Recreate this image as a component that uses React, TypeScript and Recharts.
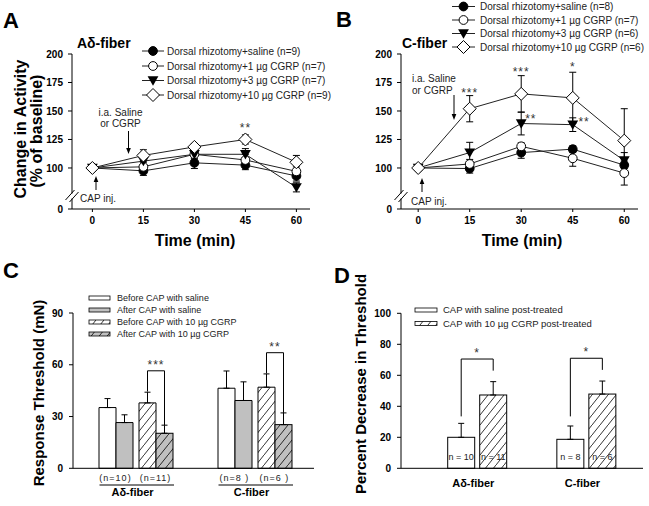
import React from 'react';
import { LineChart, Line, BarChart, Bar, XAxis, YAxis, ErrorBar, ReferenceDot } from 'recharts';

const FONT = 'Arial, "Liberation Sans", Helvetica, sans-serif';
const INK = '#000';
const TEXT = '#222';
const GRAY = '#c0c0c0';

// ---- A / B: change in activity over time ----
const timesMin = [0, 15, 30, 45, 60];
const yBreakFloor = 64; // bottom of the broken axis, printed as "0"
const activityTicks = [yBreakFloor, 100, 125, 150, 175, 200];
const markerKinds = ['dot', 'circle', 'tri', 'diamond'];

const aSaline = [100, 97.5, 104.5, 102.5, 93];
const aSalineErr = [0, 4, 5, 4, 4.5];
const a1ug = [100, 101, 112, 107, 97];
const a1ugErr = [0, 4, 4, 5, 4];
const a3ug = [100, 106, 112, 112, 83];
const a3ugErr = [0, 5, 4, 5, 4];
const a10ug = [100, 111, 118.5, 125, 105];
const a10ugErr = [0, 5, 3, 4, 6];
const aLegend = [
  'Dorsal rhizotomy+saline (n=9)',
  'Dorsal rhizotomy+1 µg CGRP (n=7)',
  'Dorsal rhizotomy+3 µg CGRP (n=7)',
  'Dorsal rhizotomy+10 µg CGRP (n=9)',
];
const aStarTimes = [45];
const aStarLevels = [137.5];
const aStarText = ['**'];

const bSaline = [100, 99.5, 113.5, 116.5, 102.5];
const bSalineErr = [0, 4, 5, 3, 6];
const b1ug = [100, 103.5, 119, 108.5, 95.5];
const b1ugErr = [0, 4, 3, 7, 10.5];
const b3ug = [100, 113.5, 139, 138, 106.5];
const b3ugErr = [0, 9, 10, 6, 7];
const b10ug = [100, 152, 165, 161.5, 124];
const b10ugErr = [0, 11.5, 16, 22.5, 28];
const bLegend = [
  'Dorsal rhizotomy+saline (n=8)',
  'Dorsal rhizotomy+1 µg CGRP (n=7)',
  'Dorsal rhizotomy+3 µg CGRP (n=6)',
  'Dorsal rhizotomy+10 µg CGRP (n=6)',
];
const bStarTimes = [15, 30, 45, 32.8, 48.3];
const bStarLevels = [168, 187, 191.5, 145.5, 143];
const bStarText = ['***', '***', '*', '**', '**'];

// ---- C: response threshold ----
const fiberTypes = ['Aδ-fiber', 'C-fiber'];
const cBeforeSaline = [35.2, 46.4];
const cBeforeSalineErr = [5.2, 10];
const cAfterSaline = [26.5, 39.3];
const cAfterSalineErr = [4.5, 10.8];
const cBeforeCgrp = [37.9, 47];
const cBeforeCgrpErr = [6.2, 7.7];
const cAfterCgrp = [20.3, 25.3];
const cAfterCgrpErr = [4.7, 6.8];
const cSalineN = ['(n=10)', '(n=8 )'];
const cCgrpN = ['(n=11)', '(n=6 )'];
const cSig = ['***', '**'];
const cBracketTop = [56.5, 67];
const cLegStart = [44.5, 55];
const cLegEnd = [25, 32.1];
const cLegend = ['Before CAP with saline', 'After CAP with saline', 'Before CAP with 10 µg CGRP', 'After CAP with 10 µg CGRP'];
const cTicks = [0, 30, 60, 90];

// ---- D: percent decrease in threshold ----
const dSaline = [20, 18.7];
const dSalineErr = [9, 8.6];
const dCgrp = [47.3, 47.9];
const dCgrpErr = [8.6, 8.4];
const dSalineN = ['n = 10', 'n = 8'];
const dCgrpN = ['n = 11', 'n = 6'];
const dSig = ['*', '*'];
const dBracketTop = [70.5, 71];
const dLegStart = [33.5, 33.5];
const dLegEnd = [63, 63.5];
const dLegend = ['CAP with saline post-treated', 'CAP with 10 µg CGRP post-treated'];
const dTicks = [0, 20, 40, 60, 80, 100];

const aRows = timesMin.map((t, i) => ({
  t, v0: aSaline[i], e0: aSalineErr[i], v1: a1ug[i], e1: a1ugErr[i],
  v2: a3ug[i], e2: a3ugErr[i], v3: a10ug[i], e3: a10ugErr[i],
}));
const bRows = timesMin.map((t, i) => ({
  t, v0: bSaline[i], e0: bSalineErr[i], v1: b1ug[i], e1: b1ugErr[i],
  v2: b3ug[i], e2: b3ugErr[i], v3: b10ug[i], e3: b10ugErr[i],
}));
const cRows = fiberTypes.map((fiber, i) => ({
  fiber,
  bs: cBeforeSaline[i], bsE: [0, cBeforeSalineErr[i]],
  as: cAfterSaline[i], asE: [0, cAfterSalineErr[i]],
  bc: cBeforeCgrp[i], bcE: [0, cBeforeCgrpErr[i]],
  ac: cAfterCgrp[i], acE: [0, cAfterCgrpErr[i]],
}));
const dRows = fiberTypes.map((fiber, i) => ({
  fiber,
  sal: dSaline[i], salE: [0, dSalineErr[i]],
  cg: dCgrp[i], cgE: [0, dCgrpErr[i]],
}));

const tickStyle = { fill: INK, fontSize: 10, fontWeight: 700, fontFamily: FONT };

function Marker({ kind, cx, cy }: { kind: string; cx: number; cy: number }) {
  if (cx == null || cy == null) return null;
  if (kind === 'dot') return <circle cx={cx} cy={cy} r={4.4} fill={INK} stroke={INK} />;
  if (kind === 'circle') return <circle cx={cx} cy={cy} r={4.4} fill="#fff" stroke={INK} />;
  if (kind === 'tri')
    return <polygon points={`${cx - 5.4},${cy - 4.2} ${cx + 5.4},${cy - 4.2} ${cx},${cy + 5.2}`} fill={INK} />;
  return (
    <polygon
      points={`${cx},${cy - 6.5} ${cx + 6.5},${cy} ${cx},${cy + 6.5} ${cx - 6.5},${cy}`}
      fill="#fff"
      stroke={INK}
    />
  );
}

function Stars({ x, y, text }: { x: number; y: number; text: string }) {
  // y is the visual centre of the asterisks
  return (
    <text x={x} y={y + 7} textAnchor="middle" fontSize={12} letterSpacing={1} fill="#333" fontFamily={FONT}>
      {text}
    </text>
  );
}

function TimeCourse(props: any) {
  const { rows, width, yAxisWidth, rightPad, xDomain, starTimes, starLevels, starText } = props;
  return (
    <LineChart width={width} height={260} data={rows} margin={{ top: 54, right: rightPad, bottom: 31, left: 0 }}>
      <XAxis
        type="number"
        dataKey="t"
        domain={xDomain}
        ticks={timesMin}
        allowDataOverflow
        height={20}
        axisLine={{ stroke: INK }}
        tickLine={{ stroke: INK }}
        tickSize={3}
        tickMargin={5}
        tick={tickStyle}
      />
      <YAxis
        type="number"
        domain={[yBreakFloor, 200]}
        ticks={activityTicks}
        allowDataOverflow
        width={yAxisWidth}
        axisLine={{ stroke: INK }}
        tickLine={{ stroke: INK }}
        tickSize={4}
        tickMargin={5}
        tick={tickStyle}
        tickFormatter={(v: number) => (v === yBreakFloor ? '0' : String(v))}
      />
      {markerKinds.map((k, s) => (
        <Line
          key={k}
          dataKey={`v${s}`}
          stroke="#222"
          strokeWidth={1}
          isAnimationActive={false}
          activeDot={false}
          dot={(p: any) => <Marker key={`${k}-${p.index}`} kind={k} cx={p.cx} cy={p.cy} />}
        >
          <ErrorBar dataKey={`e${s}`} width={3.5} stroke={INK} strokeWidth={1} direction="y" />
        </Line>
      ))}
      {starTimes.map((t: number, i: number) => (
        <ReferenceDot
          key={`st-${i}`}
          x={t}
          y={starLevels[i]}
          r={0}
          ifOverflow="visible"
          shape={(p: any) => <Stars x={p.cx} y={p.cy} text={starText[i]} />}
        />
      ))}
    </LineChart>
  );
}

function HatchDefs({ prefix }: { prefix: string }) {
  return (
    <defs>
      <pattern id={`${prefix}W`} patternUnits="userSpaceOnUse" width={8} height={10}>
        <rect width={8} height={10} fill="#fff" />
        <path d="M0,10 L8,0" stroke={INK} strokeWidth={0.8} />
      </pattern>
      <pattern id={`${prefix}G`} patternUnits="userSpaceOnUse" width={8} height={10}>
        <rect width={8} height={10} fill={GRAY} />
        <path d="M0,10 L8,0" stroke={INK} strokeWidth={0.8} />
      </pattern>
    </defs>
  );
}

// C: last bar of each group also carries the significance bracket
function CBracketBar(p: any) {
  const { x, y, width, height, index } = p;
  const base = y + height;
  const ppu = height / cAfterCgrp[index];
  const yv = (v: number) => base - v * ppu;
  const rx = x + width / 2;
  const lx = x - width / 2;
  const top = yv(cBracketTop[index]);
  return (
    <g>
      <rect x={x} y={y} width={width} height={height} fill="url(#cHatchG)" stroke={INK} strokeWidth={1} />
      <polyline
        points={`${lx},${yv(cLegStart[index])} ${lx},${top} ${rx},${top} ${rx},${yv(cLegEnd[index])}`}
        fill="none"
        stroke={INK}
        strokeWidth={1}
      />
      <Stars x={(lx + rx) / 2} y={top - 9} text={cSig[index]} />
    </g>
  );
}

function CTick(p: any) {
  const { x, y, payload } = p;
  const i = fiberTypes.indexOf(payload.value);
  return (
    <g fontFamily={FONT}>
      <text x={x - 20} y={y + 12.6} textAnchor="middle" fontSize={9} letterSpacing={1} fill={TEXT}>
        {cSalineN[i]}
      </text>
      <text x={x + 20} y={y + 12.6} textAnchor="middle" fontSize={9} letterSpacing={1} fill={TEXT}>
        {cCgrpN[i]}
      </text>
      <line x1={x - 36} x2={x + 38.5} y1={y + 16.7} y2={y + 16.7} stroke={INK} strokeWidth={1} />
      <text x={x - 3} y={y + 27.5} textAnchor="middle" fontSize={11} fontWeight={700} fill={INK}>
        {payload.value}
      </text>
    </g>
  );
}

const D_GAP = 5;

function DBar(p: any, series: 'sal' | 'cg') {
  const { x, y, width, height, index } = p;
  const isCgrp = series === 'cg';
  const label = isCgrp ? dCgrpN[index] : dSalineN[index];
  let bracket = null;
  if (isCgrp) {
    const base = y + height;
    const ppu = height / dCgrp[index];
    const yv = (v: number) => base - v * ppu;
    const rx = x + width / 2;
    const lx = x - D_GAP - width / 2;
    const top = yv(dBracketTop[index]);
    bracket = (
      <g>
        <polyline
          points={`${lx},${yv(dLegStart[index])} ${lx},${top} ${rx},${top} ${rx},${yv(dLegEnd[index])}`}
          fill="none"
          stroke={INK}
          strokeWidth={1}
        />
        <Stars x={(lx + rx) / 2} y={top - 9} text={dSig[index]} />
      </g>
    );
  }
  return (
    <g>
      <rect x={x} y={y} width={width} height={height} fill={isCgrp ? 'url(#dHatchW)' : '#fff'} stroke={INK} strokeWidth={1} />
      <text x={x + width / 2} y={y + height - 8} textAnchor="middle" fontSize={9} fill={TEXT} fontFamily={FONT}>
        {label}
      </text>
      {bracket}
    </g>
  );
}

function DTick(p: any) {
  const { x, y, payload } = p;
  return (
    <text x={x - 4} y={y + 18.4} textAnchor="middle" fontSize={11} fontWeight={700} fill={INK} fontFamily={FONT}>
      {payload.value}
    </text>
  );
}

function Arrow({ x, from, to }: { x: number; from: number; to: number }) {
  const dir = to > from ? 1 : -1;
  return (
    <g>
      <line x1={x} y1={from} x2={x} y2={to - dir * 4} stroke={INK} strokeWidth={1} />
      <polygon points={`${x - 2.3},${to - dir * 6} ${x + 2.3},${to - dir * 6} ${x},${to}`} fill={INK} />
    </g>
  );
}

function AxisBreak({ x }: { x: number }) {
  return (
    <g>
      <rect x={x - 3} y={193.5} width={6} height={5} fill="#fff" />
      <line x1={x - 6.5} y1={200} x2={x + 2.5} y2={190} stroke={INK} strokeWidth={1} />
      <line x1={x - 2.5} y1={202} x2={x + 6.5} y2={192} stroke={INK} strokeWidth={1} />
    </g>
  );
}

function LineLegend({ labels, x0, x1, textX, rows }: any) {
  return (
    <g>
      {labels.map((lab: string, i: number) => (
        <g key={lab}>
          <line x1={x0} x2={x1} y1={rows[i]} y2={rows[i]} stroke="#222" strokeWidth={1} />
          <Marker kind={markerKinds[i]} cx={(x0 + x1) / 2} cy={rows[i]} />
          <text x={textX} y={rows[i] + 3.5} fontSize={10} fill={TEXT}>
            {lab}
          </text>
        </g>
      ))}
    </g>
  );
}

const cSwatchFills = ['#fff', GRAY, 'url(#lgHatchW)', 'url(#lgHatchG)'];
const dSwatchFills = ['#fff', 'url(#lgHatchW)'];

function Overlay() {
  const aRowsY = [51, 66, 80.5, 95];
  const bRowsY = [6.5, 20, 33.5, 47];
  const cRowsY = [298, 310, 322, 334];
  const dRowsY = [310, 323.5];
  return (
    <svg
      width={649}
      height={506}
      style={{ position: 'absolute', left: 0, top: 0, pointerEvents: 'none' }}
      fontFamily={FONT}
    >
      <HatchDefs prefix="lgHatch" />
      {/* panel letters */}
      <text x={3} y={28} fontSize={22} fontWeight={700}>A</text>
      <text x={336} y={27} fontSize={22} fontWeight={700}>B</text>
      <text x={3} y={278} fontSize={22} fontWeight={700}>C</text>
      <text x={334} y={283} fontSize={22} fontWeight={700}>D</text>

      {/* panel titles */}
      <text x={77} y={48} fontSize={14} fontWeight={700}>Aδ-fiber</text>
      <text x={402} y={48} fontSize={14} fontWeight={700}>C-fiber</text>

      {/* axis titles */}
      <text transform="translate(20,129) rotate(-90)" textAnchor="middle" dominantBaseline="central" fontSize={16} fontWeight={700}>
        Change in Activity
      </text>
      <text transform="translate(36,131) rotate(-90)" textAnchor="middle" dominantBaseline="central" fontSize={16} fontWeight={700}>
        (% of baseline)
      </text>
      <text x={195} y={246} textAnchor="middle" fontSize={16} fontWeight={700}>Time (min)</text>
      <text x={522} y={246} textAnchor="middle" fontSize={16} fontWeight={700}>Time (min)</text>
      <text transform="translate(38,393) rotate(-90)" textAnchor="middle" dominantBaseline="central" fontSize={15} fontWeight={700}>
        Response Threshold (mN)
      </text>
      <text transform="translate(360,384) rotate(-90)" textAnchor="middle" dominantBaseline="central" fontSize={15} fontWeight={700}>
        Percent Decrease in Threshold
      </text>

      {/* legends */}
      <LineLegend labels={aLegend} x0={142} x1={164} textX={167} rows={aRowsY} />
      <LineLegend labels={bLegend} x0={452} x1={475} textX={480} rows={bRowsY} />
      {cLegend.map((lab, i) => (
        <g key={lab}>
          <rect x={89} y={cRowsY[i] - 2} width={21} height={4} fill={cSwatchFills[i]} stroke={INK} strokeWidth={0.8} />
          <text x={117} y={cRowsY[i] + 3.2} fontSize={9} fill={TEXT}>{lab}</text>
        </g>
      ))}
      {dLegend.map((lab, i) => (
        <g key={lab}>
          <rect x={415} y={dRowsY[i] - 2} width={22} height={4} fill={dSwatchFills[i]} stroke={INK} strokeWidth={0.8} />
          <text x={443} y={dRowsY[i] + 3.4} fontSize={9.5} fill={TEXT}>{lab}</text>
        </g>
      ))}

      {/* injection annotations, A */}
      <text x={120.5} y={116} textAnchor="middle" fontSize={10} fill={TEXT}>i.a. Saline</text>
      <text x={120.5} y={126.5} textAnchor="middle" fontSize={10} fill={TEXT}>or CGRP</text>
      <Arrow x={128.5} from={131} to={154} />
      <Arrow x={96} from={190} to={176} />
      <text x={80} y={202} fontSize={10} fill={TEXT}>CAP inj.</text>
      <AxisBreak x={72} />

      {/* injection annotations, B */}
      <text x={412} y={82} fontSize={10} fill={TEXT}>i.a. Saline</text>
      <text x={412} y={93.5} fontSize={10} fill={TEXT}>or CGRP</text>
      <Arrow x={454} from={95} to={120} />
      <Arrow x={422} from={192} to={178} />
      <text x={411} y={204.5} fontSize={10} fill={TEXT}>CAP inj.</text>
      <AxisBreak x={401} />
    </svg>
  );
}

export default function App() {
  return (
    <div style={{ position: 'absolute', left: 0, top: 0, width: 649, height: 506, background: '#fff', fontFamily: FONT }}>
      <div style={{ position: 'absolute', left: 0, top: 0 }}>
        <TimeCourse
          rows={aRows}
          width={320}
          yAxisWidth={72}
          rightPad={10}
          xDomain={[-6, 64]}
          starTimes={aStarTimes}
          starLevels={aStarLevels}
          starText={aStarText}
        />
      </div>
      <div style={{ position: 'absolute', left: 320, top: 0 }}>
        <TimeCourse
          rows={bRows}
          width={329}
          yAxisWidth={81}
          rightPad={11}
          xDomain={[-5, 64]}
          starTimes={bStarTimes}
          starLevels={bStarLevels}
          starText={bStarText}
        />
      </div>
      <div style={{ position: 'absolute', left: 0, top: 255 }}>
        <BarChart width={320} height={251} data={cRows} barGap={0} margin={{ top: 58, right: 6, bottom: 7.7, left: 0 }}>
          <HatchDefs prefix="cHatch" />
          <XAxis
            dataKey="fiber"
            type="category"
            interval={0}
            padding={{ left: 3, right: 0 }}
            height={30}
            axisLine={{ stroke: INK }}
            tickLine={false}
            tickSize={0}
            tickMargin={0}
            tick={(p: any) => <CTick {...p} />}
          />
          <YAxis
            type="number"
            domain={[0, 90]}
            ticks={cTicks}
            width={73}
            axisLine={{ stroke: INK }}
            tickLine={{ stroke: INK }}
            tickSize={4}
            tickMargin={6}
            tick={tickStyle}
          />
          <Bar dataKey="bs" barSize={17} fill="#fff" stroke={INK} strokeWidth={1} isAnimationActive={false}>
            <ErrorBar dataKey="bsE" width={3} stroke={INK} strokeWidth={1} direction="y" />
          </Bar>
          <Bar dataKey="as" barSize={17} fill={GRAY} stroke={INK} strokeWidth={1} isAnimationActive={false}>
            <ErrorBar dataKey="asE" width={3} stroke={INK} strokeWidth={1} direction="y" />
          </Bar>
          <Bar dataKey="gap" barSize={6} isAnimationActive={false} />
          <Bar dataKey="bc" barSize={17} fill="url(#cHatchW)" stroke={INK} strokeWidth={1} isAnimationActive={false}>
            <ErrorBar dataKey="bcE" width={3} stroke={INK} strokeWidth={1} direction="y" />
          </Bar>
          <Bar dataKey="ac" barSize={17} fill="url(#cHatchG)" isAnimationActive={false} shape={(p: any) => <CBracketBar {...p} />}>
            <ErrorBar dataKey="acE" width={3} stroke={INK} strokeWidth={1} direction="y" />
          </Bar>
        </BarChart>
      </div>
      <div style={{ position: 'absolute', left: 320, top: 255 }}>
        <BarChart width={329} height={251} data={dRows} barGap={D_GAP} margin={{ top: 58.3, right: 6, bottom: 7.7, left: 0 }}>
          <HatchDefs prefix="dHatch" />
          <XAxis
            dataKey="fiber"
            type="category"
            interval={0}
            padding={{ left: 21.7, right: 2 }}
            height={30}
            axisLine={{ stroke: INK }}
            tickLine={false}
            tickSize={0}
            tickMargin={0}
            tick={(p: any) => <DTick {...p} />}
          />
          <YAxis
            type="number"
            domain={[0, 100]}
            ticks={dTicks}
            width={81}
            axisLine={{ stroke: INK }}
            tickLine={{ stroke: INK }}
            tickSize={4}
            tickMargin={6}
            tick={tickStyle}
          />
          <Bar dataKey="sal" barSize={27} isAnimationActive={false} shape={(p: any) => DBar(p, 'sal')}>
            <ErrorBar dataKey="salE" width={3} stroke={INK} strokeWidth={1} direction="y" />
          </Bar>
          <Bar dataKey="cg" barSize={27} isAnimationActive={false} shape={(p: any) => DBar(p, 'cg')}>
            <ErrorBar dataKey="cgE" width={3} stroke={INK} strokeWidth={1} direction="y" />
          </Bar>
        </BarChart>
      </div>
      <Overlay />
    </div>
  );
}
